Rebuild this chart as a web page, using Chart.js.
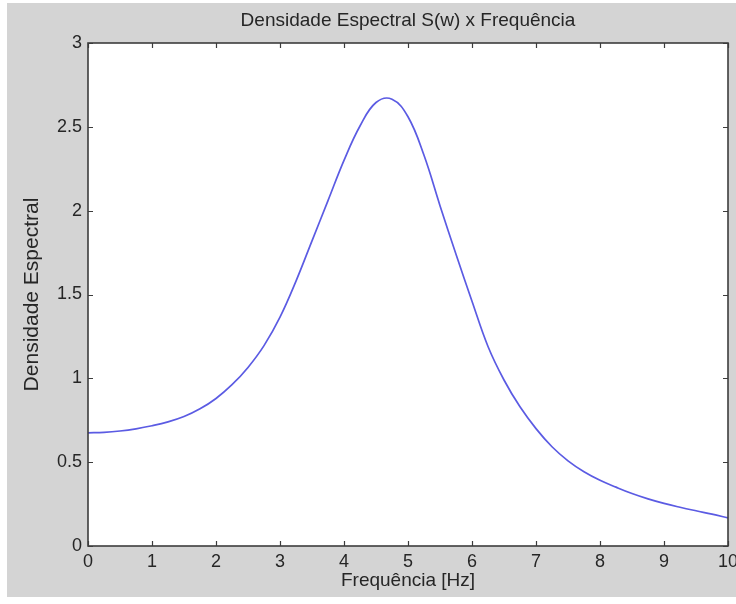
<!DOCTYPE html>
<html>
<head>
<meta charset="utf-8">
<script src="https://cdn.jsdelivr.net/npm/chart.js@4.4.1/dist/chart.umd.min.js"></script>
<style>
  html, body { margin: 0; padding: 0; background: #ffffff; }
  #wrap { width: 736px; height: 604px; position: relative; }
</style>
</head>
<body>
<div id="wrap"><canvas id="c" width="736" height="604"></canvas></div>
<script>
const chartTitle = 'Densidade Espectral S(w) x Frequência';
const xAxisTitle = 'Frequência [Hz]';
const yAxisTitle = 'Densidade Espectral';
const xTicks = [0, 1, 2, 3, 4, 5, 6, 7, 8, 9, 10];
const yTicks = [0, 0.5, 1, 1.5, 2, 2.5, 3];
const frequency = [0, 0.25, 0.5, 0.75, 1, 1.25, 1.5, 1.75, 2, 2.25, 2.5, 2.75, 3, 3.25, 3.5, 3.75, 4, 4.25, 4.5, 4.75, 5, 5.25, 5.5, 5.75, 6, 6.25, 6.5, 6.75, 7, 7.25, 7.5, 7.75, 8, 8.25, 8.5, 8.75, 9, 9.25, 9.5, 9.75, 10];
const density = [0.675, 0.678, 0.686, 0.699, 0.717, 0.740, 0.772, 0.818, 0.880, 0.962, 1.065, 1.195, 1.365, 1.580, 1.820, 2.060, 2.300, 2.505, 2.645, 2.665, 2.560, 2.330, 2.030, 1.740, 1.460, 1.190, 0.990, 0.830, 0.700, 0.592, 0.508, 0.443, 0.392, 0.351, 0.313, 0.281, 0.254, 0.231, 0.210, 0.190, 0.168];

const FONT = "'Liberation Sans', Arial, Helvetica, sans-serif";
const TEXT = '#262626';

const bgPlugin = {
  id: 'bg',
  beforeDraw(chart) {
    const ctx = chart.ctx;
    ctx.save();
    ctx.fillStyle = '#ffffff';
    ctx.fillRect(0, 0, chart.width, chart.height);
    ctx.fillStyle = '#d4d4d4';
    ctx.fillRect(7, 3, chart.width - 7, 594);
    const a = chart.chartArea;
    ctx.fillStyle = '#ffffff';
    ctx.fillRect(a.left, a.top, a.right - a.left, a.bottom - a.top);
    ctx.restore();
  },
  afterDatasetsDraw(chart) {
    const ctx = chart.ctx;
    const a = chart.chartArea;
    const xs = chart.scales.x, ys = chart.scales.y;
    ctx.save();
    ctx.strokeStyle = '#3c3c3c';
    ctx.lineWidth = 1.6;
    ctx.strokeRect(a.left, a.top, a.right - a.left, a.bottom - a.top);
    ctx.lineWidth = 1.2;
    const L = 5;
    ctx.beginPath();
    xTicks.forEach(v => {
      const px = Math.round(xs.getPixelForValue(v)) + 0.5;
      ctx.moveTo(px, a.bottom); ctx.lineTo(px, a.bottom - L);
      ctx.moveTo(px, a.top); ctx.lineTo(px, a.top + L);
    });
    yTicks.forEach(v => {
      const py = Math.round(ys.getPixelForValue(v)) + 0.5;
      ctx.moveTo(a.left, py); ctx.lineTo(a.left + L, py);
      ctx.moveTo(a.right, py); ctx.lineTo(a.right - L, py);
    });
    ctx.stroke();
    ctx.restore();
  }
};

new Chart(document.getElementById('c'), {
  type: 'line',
  data: {
    datasets: [{
      data: frequency.map((f, i) => ({ x: f, y: density[i] })),
      borderColor: '#5b5be3',
      borderWidth: 1.7,
      pointRadius: 0,
      fill: false,
      tension: 0.4
    }]
  },
  options: {
    responsive: false,
    animation: false,
    devicePixelRatio: 1,
    layout: { padding: { left: 0, right: 8, top: 0, bottom: 0 } },
    plugins: {
      legend: { display: false },
      tooltip: { enabled: false },
      title: {
        display: true,
        fullSize: false,
        text: chartTitle,
        color: TEXT,
        font: { family: FONT, size: 19, weight: 'normal' },
        padding: { top: 9, bottom: 11.2 }
      }
    },
    scales: {
      x: {
        type: 'linear',
        min: 0, max: 10,
        afterBuildTicks(s) { s.ticks = xTicks.map(v => ({ value: v })); },
        afterFit(s) { s.height = 58; s.paddingLeft = 0; s.paddingRight = 0; },
        grid: { display: false, drawTicks: false },
        border: { display: false },
        ticks: {
          color: TEXT,
          font: { family: FONT, size: 18 },
          padding: 5,
          maxRotation: 0,
          autoSkip: false,
          callback: v => String(v)
        },
        title: {
          display: true,
          text: xAxisTitle,
          color: TEXT,
          font: { family: FONT, size: 19 },
          padding: { top: 0, bottom: 11.6 }
        }
      },
      y: {
        type: 'linear',
        min: 0, max: 3,
        afterBuildTicks(s) { s.ticks = yTicks.map(v => ({ value: v })); },
        afterFit(s) { s.width = 88; s.paddingTop = 0; s.paddingBottom = 0; },
        grid: { display: false, drawTicks: false },
        border: { display: false },
        ticks: {
          color: TEXT,
          font: { family: FONT, size: 18 },
          padding: 6,
          autoSkip: false,
          callback: v => String(v)
        },
        title: {
          display: true,
          text: yAxisTitle,
          color: TEXT,
          font: { family: FONT, size: 21 },
          padding: { top: 19.5, bottom: 0 }
        }
      }
    }
  },
  plugins: [bgPlugin]
});
</script>
</body>
</html>
